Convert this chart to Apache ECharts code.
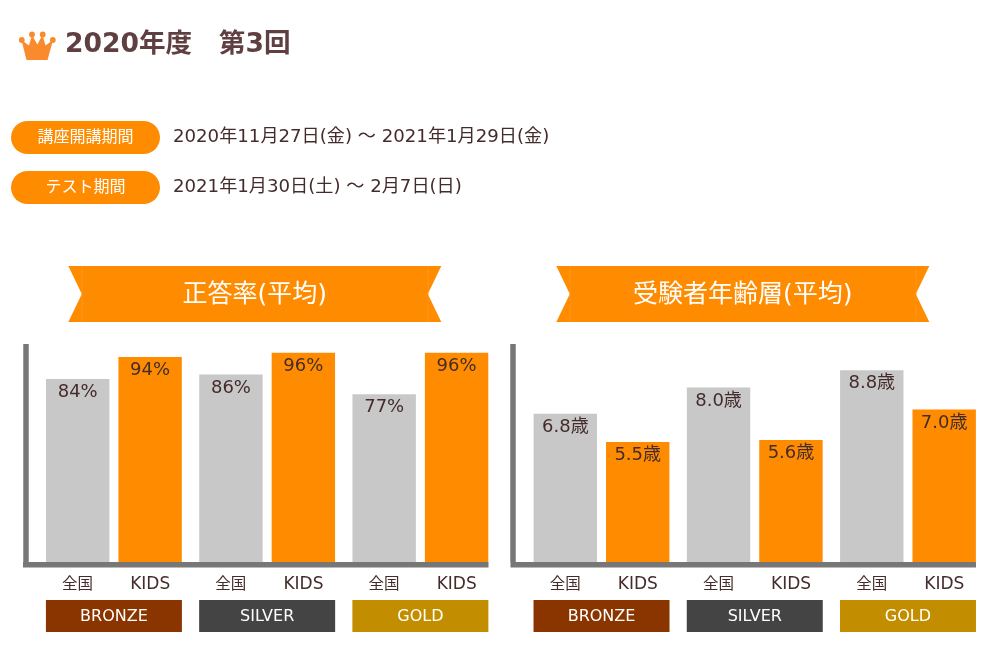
<!DOCTYPE html>
<html><head><meta charset="utf-8">
<style>html,body{margin:0;padding:0;background:#fff}#c{width:1000px;height:659px}</style>
<script src="https://cdn.jsdelivr.net/npm/echarts@6/dist/echarts.min.js"></script>
</head><body><div id="c"></div>
<script>
const levels = ['BRONZE','SILVER','GOLD'];
const levelColors = ['#8a3500','#444444','#c28e00'];
const seriesNames = ['全国','KIDS'];
const accuracyAll = [84,86,77];
const accuracyKids = [94,96,96];
const ageAll = [6.8,8.0,8.8];
const ageKids = [5.5,5.6,7.0];
const pageTitle = '2020年度　第3回';
const ribbonTitles = ['正答率(平均)','受験者年齢層(平均)'];
const pillLabels = ['講座開講期間','テスト期間'];
const periods = ['2020年11月27日(金) ～ 2021年1月29日(金)','2021年1月30日(土) ～ 2月7日(日)'];

const FONT = '"DejaVu Sans","Noto Sans CJK JP",sans-serif';
const ORANGE = '#ff8c00', GRAY = '#c8c8c8', TEXT = '#452c2c', AXIS = '#777777', CROWN = '#f98b2d';
const grids = [{left:37.3,width:459.7,top:344,height:218},{left:524.9,width:459.7,top:344,height:218}];
const fmtPct = p => p.value + '%';
const fmtAge = p => p.value.toFixed(1) + '歳';

function barSeries(name, data, color, idx, fmt){
  return {type:'bar',name,data,xAxisIndex:idx*2,yAxisIndex:idx,barWidth:63.4,barGap:'14.2%',
    itemStyle:{color},animation:false,silent:true,
    label:{show:true,position:'insideTop',distance:4.5,formatter:fmt,color:TEXT,fontSize:18,fontFamily:FONT}};
}
const xAxes = [], yAxes = [];
[0,1].forEach(i=>{
  const rich = {a0:{width:72.6,align:'center',fontSize:15.5,color:TEXT,fontFamily:FONT},
                a1:{width:72.6,align:'center',fontSize:17,color:TEXT,fontFamily:FONT}};
  xAxes.push({type:'category',gridIndex:i,data:levels,axisLine:{show:false},axisTick:{show:false},
    axisLabel:{margin:14.5,interval:0,formatter:()=>seriesNames.map((n,k)=>`{a${k}|${n}}`).join(''),rich}});
  const richC = {};
  levels.forEach((l,k)=>{richC['c'+k]={backgroundColor:levelColors[k],color:'#fff',width:136,height:30,lineHeight:30,
    padding:[2,0,0,0],align:'center',fontSize:16,fontFamily:FONT};});
  xAxes.push({type:'category',gridIndex:i,position:'bottom',data:levels,axisLine:{show:false},axisTick:{show:false},
    axisLabel:{margin:39,interval:0,formatter:(v,k)=>`{c${k}|${v}}`,rich:richC}});
  yAxes.push({type:'value',gridIndex:i,min:0,max:i?10:100,interval:i?10:100,offset:11.8,splitLine:{show:false},
    axisTick:{show:false},axisLabel:{show:false},axisLine:{show:true,lineStyle:{color:AXIS,width:5.5,cap:'butt'}}});
});

function ribbon(x){
  const w=373,h=56,y=266,n=13.5;
  return {type:'polygon',shape:{points:[[x,y],[x+w,y],[x+w-n,y+h/2],[x+w,y+h],[x,y+h],[x+n,y+h/2]]},style:{fill:ORANGE}};
}
const g = [];
// crown
g.push({type:'polygon',shape:{points:[[21.5,40],[29,45.5],[32,35],[37.3,44.5],[42.5,35],[45.5,45.5],[53,40],[47.5,60],[26.5,60]]},style:{fill:CROWN}});
[[21.8,40],[32,34.5],[42.7,34.5],[52.8,40]].forEach(p=>g.push({type:'circle',shape:{cx:p[0],cy:p[1],r:2.9},style:{fill:CROWN}}));
g.push({type:'text',x:65,y:45.5,style:{text:pageTitle,fill:'#5f3f3f',font:'bold 26.6px '+FONT,textVerticalAlign:'middle'}});
pillLabels.forEach((t,i)=>{
  const y=121+50*i;
  g.push({type:'rect',shape:{x:11,y,width:149,height:33,r:16.5},style:{fill:ORANGE}});
  g.push({type:'text',x:85.5,y:y+16.5,style:{text:t,fill:'#fff',font:'16px '+FONT,textAlign:'center',textVerticalAlign:'middle'}});
  g.push({type:'text',x:173,y:y+16.5,style:{text:periods[i],fill:TEXT,font:'18.15px '+FONT,textVerticalAlign:'middle'}});
});
[68.3,556.3].forEach((x,i)=>{
  g.push(ribbon(x));
  [x+13.5,x+359.5].forEach(lx=>g.push({type:'rect',shape:{x:lx,y:266,width:0.6,height:56},style:{fill:'#ff9d28'}}));
  g.push({type:'text',x:x+186.5,y:295,style:{text:ribbonTitles[i],fill:'#fff',font:'25px '+FONT,textAlign:'center',textVerticalAlign:'middle'}});
});
// bottom axis lines
[[23,465.5],[510.5,465.5]].forEach(a=>g.push({type:'rect',shape:{x:a[0],y:562,width:a[1],height:5.5},style:{fill:AXIS}}));

const chart = echarts.init(document.getElementById('c'),null,{renderer:'canvas'});
chart.setOption({animation:false,backgroundColor:'#fff',grid:grids,xAxis:xAxes,yAxis:yAxes,
  series:[barSeries(seriesNames[0],accuracyAll,GRAY,0,fmtPct),barSeries(seriesNames[1],accuracyKids,ORANGE,0,fmtPct),
          barSeries(seriesNames[0],ageAll,GRAY,1,fmtAge),barSeries(seriesNames[1],ageKids,ORANGE,1,fmtAge)],
  graphic:{elements:g}});
</script></body></html>
